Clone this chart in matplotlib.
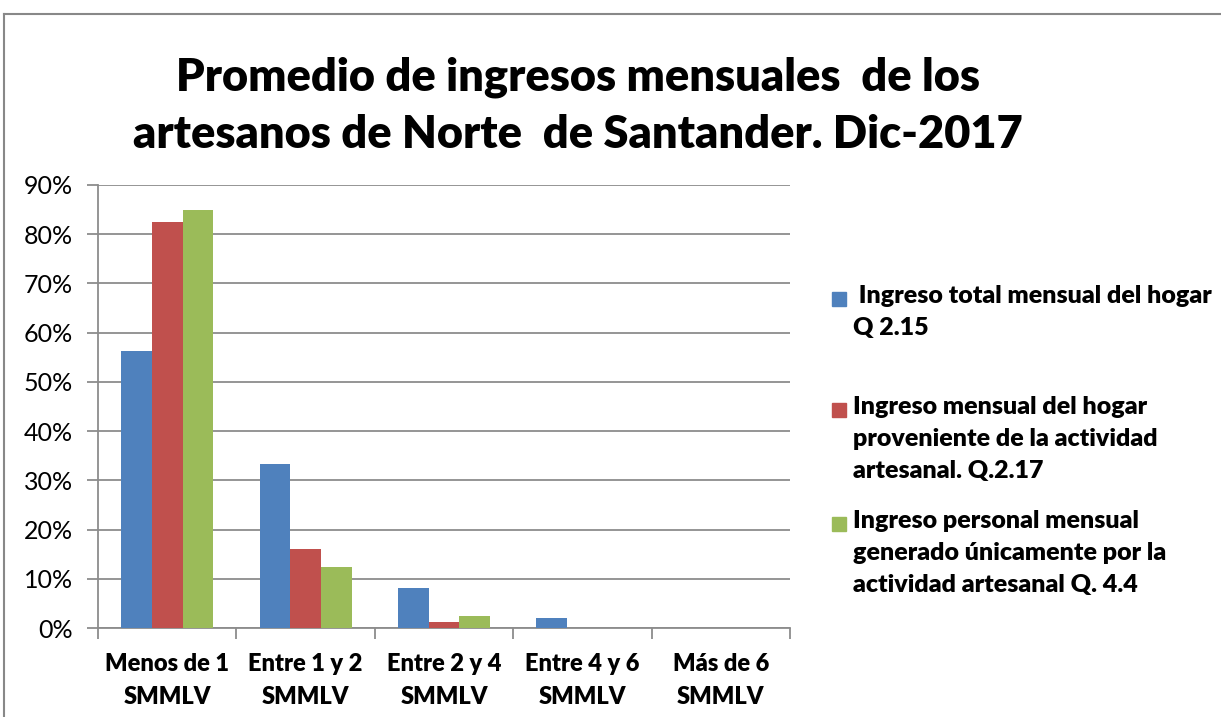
import matplotlib
matplotlib.use('Agg')
import matplotlib.pyplot as plt
from matplotlib.lines import Line2D
from matplotlib.patches import Rectangle
import numpy as np

plt.rcParams['font.family'] = ['Lato', 'DejaVu Sans']

categories = ['Menos de 1\nSMMLV', 'Entre 1 y 2\nSMMLV', 'Entre 2 y 4\nSMMLV',
              'Entre 4 y 6\nSMMLV', 'Más de 6\nSMMLV']
total_hogar = [56.2, 33.4, 8.2, 2.0, 0.0]
hogar_artesanal = [82.5, 16.1, 1.3, 0.0, 0.0]
personal_artesanal = [85.0, 12.4, 2.5, 0.0, 0.0]
series_labels = [' Ingreso total mensual del hogar\nQ 2.15',
                 'Ingreso mensual del hogar\nproveniente de la actividad\nartesanal. Q.2.17',
                 'Ingreso personal mensual\ngenerado únicamente por la\nactividad artesanal Q. 4.4']
colors = ['#4F81BD', '#C0504D', '#9BBB59']
yticks = np.arange(0, 91, 10)

W, H = 1221, 717
fig = plt.figure(figsize=(W / 100, H / 100), dpi=100)
ax = fig.add_axes([98 / W, 1 - 628 / H, 692 / W, 443 / H])

x = np.arange(len(categories))
bw = 0.222
for i, vals in enumerate([total_hogar, hogar_artesanal, personal_artesanal]):
    ax.bar(x + (i - 1) * bw, vals, bw, color=colors[i], zorder=3)

ax.set_xlim(-0.5, len(categories) - 0.5)
ax.set_ylim(0, 90)
ax.set_yticks(yticks)
ax.set_yticklabels([f'{v}%' for v in yticks], fontsize=18)
ax.yaxis.grid(True, color='#8C8C8C', linewidth=1.3, zorder=0)
ax.set_xticks(np.arange(-0.5, len(categories), 1.0))
ax.set_xticklabels([])
ax.set_xticks(x, minor=True)
ax.set_xticklabels(categories, minor=True, fontsize=17, fontweight='heavy', linespacing=1.6)
ax.tick_params(axis='x', which='minor', length=0, pad=18)
ax.tick_params(axis='x', which='major', length=8, color='#8C8C8C', width=1.3)
ax.tick_params(axis='y', length=8, color='#8C8C8C', width=1.3, pad=10)
for s in ['top', 'right']:
    ax.spines[s].set_visible(False)
for s in ['left', 'bottom']:
    ax.spines[s].set_color('#8C8C8C')
    ax.spines[s].set_linewidth(1.3)

fig.suptitle('Promedio de ingresos mensuales  de los\nartesanos de Norte  de Santander. Dic-2017',
             x=578 / W, y=1 - 56 / H, va='top', fontsize=32.5, fontweight='heavy', linespacing=1.48)

# legend
tops = [285, 396, 510]
for c, lab, t in zip(colors, series_labels, tops):
    fig.add_artist(Rectangle((832 / W, 1 - (t + 21) / H), 14 / W, 14 / H,
                             transform=fig.transFigure, color=c))
    fig.text(853 / W, 1 - t / H, lab, va='top', ha='left', fontsize=18,
             fontweight='heavy', linespacing=1.55)

# chart border
fig.add_artist(Line2D([4 / W, 1], [1 - 14 / H, 1 - 14 / H], transform=fig.transFigure,
                      color='#888888', linewidth=1.5))
fig.add_artist(Line2D([4 / W, 4 / W], [0, 1 - 14 / H], transform=fig.transFigure,
                      color='#888888', linewidth=1.5))

fig.savefig('out.png', dpi=100)
